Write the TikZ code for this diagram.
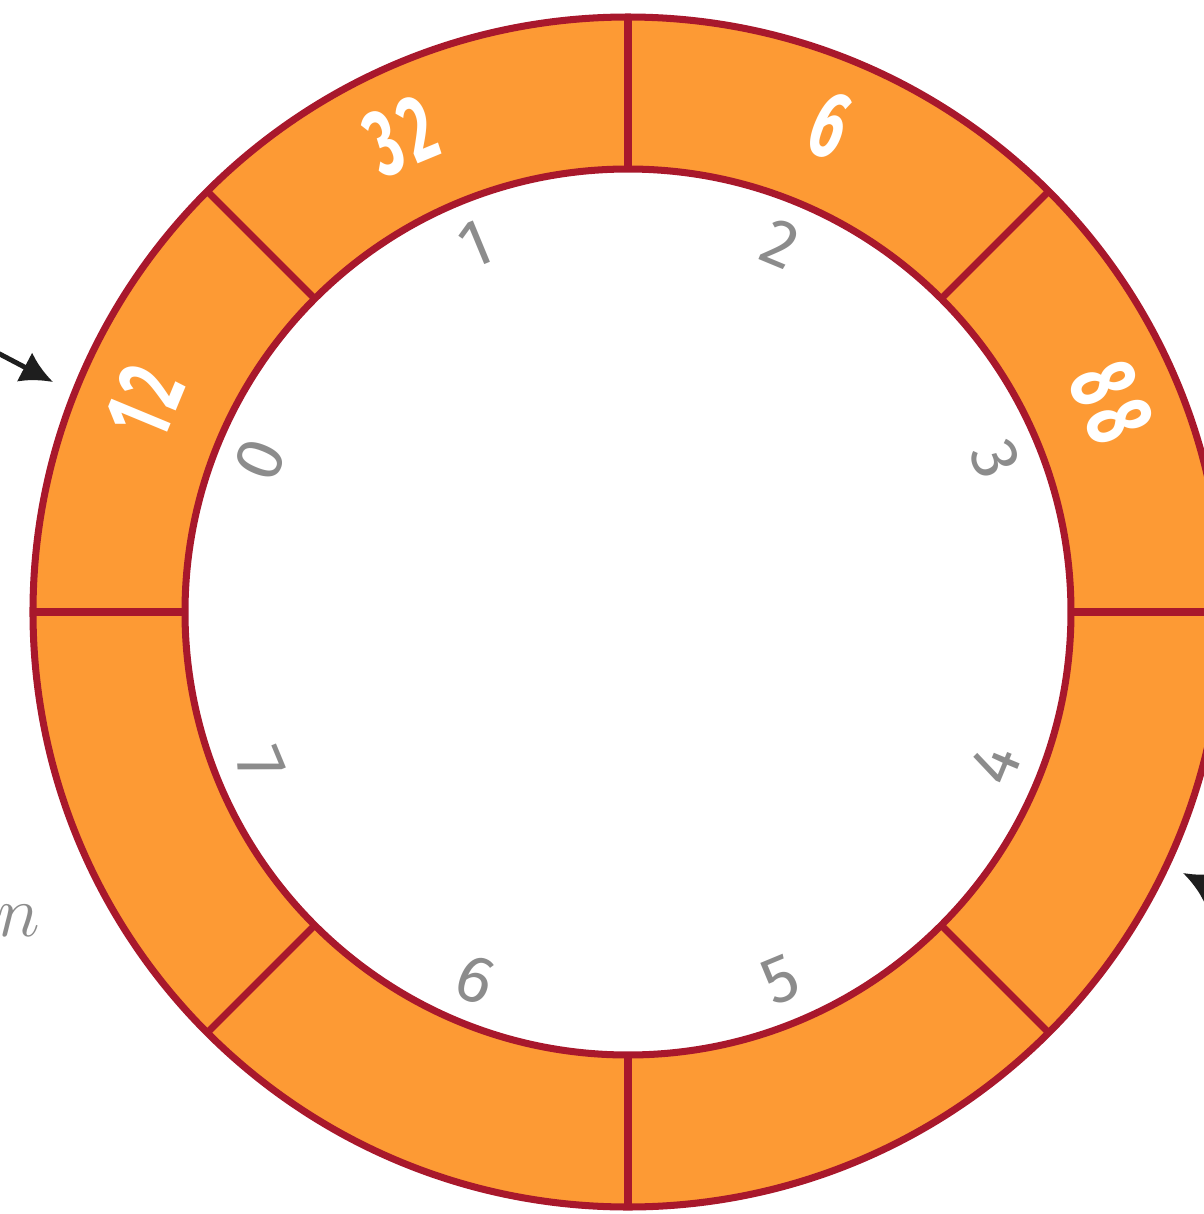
\documentclass[tikz,border=0pt]{standalone}
\usepackage{fontspec}
\setmainfont{Fira Sans}
\usetikzlibrary{arrows.meta}

\definecolor{ringfill}{RGB}{253,154,52}
\definecolor{ringline}{RGB}{168,24,44}
\definecolor{idxgray}{RGB}{140,140,140}
\definecolor{arrowdark}{RGB}{30,30,30}

\tikzset{
  ringedge/.style={ringline, line width=2pt},
  value/.style={text=white, font=\fontsize{27}{32}\selectfont\bfseries\addfontfeature{LetterSpace=12}, xscale=0.62, inner sep=0pt},
  index/.style={text=idxgray, font=\fontsize{19}{22}\selectfont, inner sep=0pt},
  pointer/.style={arrowdark, line width=1.4pt, -{Latex[length=3.2mm,width=3.3mm]}},
}

\begin{document}
\begin{tikzpicture}
  \useasboundingbox (-6.28,-6.02) rectangle (5.76,6.12);
  \clip (-6.28,-6.02) rectangle (5.76,6.12);

  % ring of 8 slots
  \fill[ringfill, even odd rule] (0,0) circle (5.95) circle (4.43);
  \draw[ringedge] (0,0) circle (5.95) (0,0) circle (4.43);
  \foreach \a in {0,45,...,315}
    \draw[ringedge] (\a:4.43) -- (\a:5.95);

  % stored values
  \foreach \k/\v/\p in {0/12/156.5,1/32/115.5,2/6/67.5,3/88/23.5}
    \node[rotate={67.5-45*\k}, value] (v\k) at (\p:5.27) {\v};

  % slot numbers
  \foreach \k in {0,...,3}
    \node[rotate={67.5-45*\k}, index] (i\k) at ({157.5-45*\k}:3.98) {\k};
  \foreach \k in {4,...,7}
    \node[rotate={247.5-45*\k}, index] (i\k) at ({157.5-45*\k}:3.98) {\k};

  % pointers
  \coordinate (fromL) at (-6.55,2.72);
  \coordinate (tipL) at (-5.75,2.30);
  \draw[pointer] (fromL) -- (tipL);
  \coordinate (fromR) at (6.35,-3.02);
  \coordinate (tipR) at (5.55,-2.61);
  \draw[pointer] (fromR) -- (tipR);

  \node[text=idxgray, font=\fontsize{20}{24}\selectfont, inner sep=0pt] (lbln) at (-6.09,-3.09) {$n$};
\end{tikzpicture}
\end{document}
